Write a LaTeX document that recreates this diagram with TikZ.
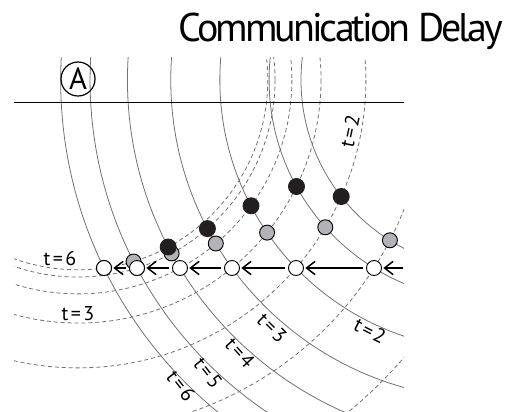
\documentclass[tikz,border=0pt]{standalone}
\usepackage{fontspec}
\setmainfont{PT Sans}
\usetikzlibrary{arrows.meta}

\definecolor{arcgrey}{RGB}{112,113,116}
\definecolor{dotgrey}{RGB}{177,179,182}
\definecolor{dotblack}{RGB}{35,31,32}

\tikzset{
  wave/.style={color=arcgrey, line width=0.6pt},
  echo/.style={color=arcgrey, line width=0.6pt, dash pattern=on 3pt off 2.2pt},
  dot/.style={circle, draw=black, line width=0.7pt, inner sep=0pt, minimum size=11.25pt},
  relay/.style={dot, fill=white},
  heard/.style={dot, fill=dotgrey},
  sent/.style={dot, draw=dotblack, fill=dotblack, minimum size=12pt},
  hop/.style={-{Straight Barb[length=6.5pt,width=10pt]}, line width=1.1pt, shorten <=2pt, shorten >=1pt},
  tlabel/.style={font=\fontsize{15}{17}\selectfont, inner sep=0.5pt,
    execute at begin node={\spaceskip=0.12em\relax}},
}

\begin{document}
\begin{tikzpicture}[x=0.75pt,y=0.75pt,yscale=-1,xscale=1]
\useasboundingbox (0,0) rectangle (507,411);

% centres of the two wave families
\coordinate (srcA) at (78,80);
\coordinate (srcB) at (490,80);

\begin{scope}
\clip (14,57) rectangle (404,411);
%Shape: Arc (solid, around B)
\draw [wave] (srcB) circle (429.35);
\draw [wave] (srcB) circle (399.94);
\draw [wave] (srcB) circle (362.55);
\draw [wave] (srcB) circle (319.23);
\draw [wave] (srcB) circle (270.15);
\draw [wave] (srcB) circle (220.91);
\draw [wave] (srcB) circle (189);
%Shape: Arc (dashed, around A)
\draw [echo] (srcA) circle (189.79);
\draw [echo] (srcA) circle (197.04);
\draw [echo] (srcA) circle (213.89);
\draw [echo] (srcA) circle (243.02);
\draw [echo] (srcA) circle (287.87);
\draw [echo] (srcA) circle (350.66);
\draw [echo] (srcA) circle (428);
\end{scope}

%Straight Lines
\draw [line width=0.75pt] (14,102) -- (404,102);

%Shape: Circle
\node [draw, circle, line width=0.9pt, inner sep=0pt, minimum size=25.5pt, font=\fontsize{23}{26}\selectfont] (nodeA) at (78,79) {A};

% relay nodes on the line
\node [relay] (w1) at (104,268) {};
\node [relay] (w2) at (137,268) {};
\node [relay] (w3) at (180,268) {};
\node [relay] (w4) at (232,268) {};
\node [relay] (w5) at (296,268) {};
\node [relay] (w6) at (374,268) {};
\coordinate (wr) at (406,268);

%Straight Lines
\draw [hop] (wr) -- (w6);
\draw [hop] (w6) -- (w5);
\draw [hop] (w5) -- (w4);
\draw [hop] (w4) -- (w3);
\draw [hop] (w3) -- (w2);
\draw [hop] (w2) -- (w1);

% grey dots
\node [heard] (g1) at (133.6,261.5) {};
\node [heard] (g2) at (171.6,253.4) {};
\node [heard] (g3) at (215.8,243.5) {};
\node [heard] (g4) at (267.1,232.6) {};
\node [heard] (g5) at (325.3,227.3) {};
\node [heard] (g6) at (389.9,240.3) {};
% black dots
\node [sent] (b1) at (168.2,247) {};
\node [sent] (b2) at (207.4,228.6) {};
\node [sent] (b3) at (251,205.8) {};
\node [sent] (b4) at (296.5,186.5) {};
\node [sent] (b5) at (341.2,196.5) {};
% white dots on top again
\node [relay] at (w1) {};
\node [relay] at (w2) {};

% Text Node
\node [anchor=base east, inner sep=0pt, font=\fontsize{30}{34}\selectfont\addfontfeatures{LetterSpace=-7.5}] (title) at (503,41) {Communication Delay};
% Text Node
\node [tlabel] (d6) at (60,258) {t = 6};
\node [tlabel] (d3) at (78,314) {t = 3};
\node [tlabel, rotate=78] (d2) at (350,131) {t = 2};
% Text Node
\node [tlabel, rotate=-27] (s2) at (370,331) {t = 2};
\node [tlabel, rotate=-45] (s3) at (272,328) {t = 3};
\node [tlabel, rotate=-48] (s4) at (240,353) {t = 4};
\node [tlabel, rotate=-52] (s5) at (208,373) {t = 5};
\node [tlabel, rotate=-52] (s6) at (181,386) {t = 6};

\end{tikzpicture}
\end{document}
